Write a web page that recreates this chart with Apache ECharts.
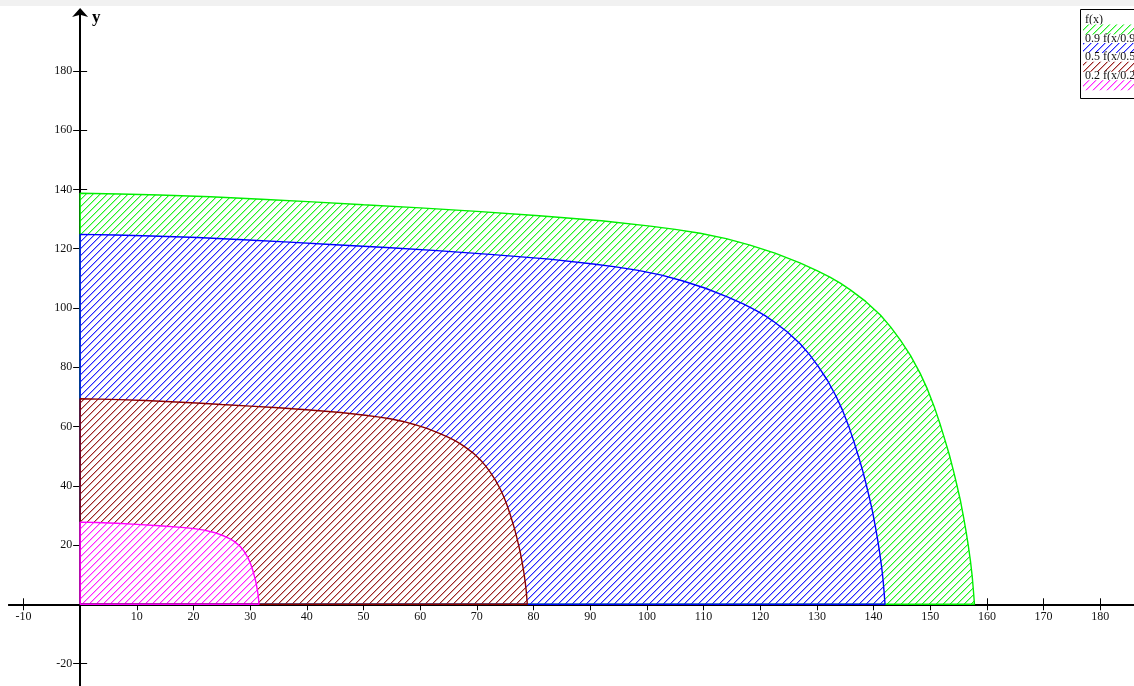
<!DOCTYPE html>
<html>
<head>
<meta charset="utf-8">
<script src="https://cdn.jsdelivr.net/npm/echarts@6/dist/echarts.min.js"></script>
<style>
  html, body { margin: 0; padding: 0; background: #fff; }
  #chart { width: 1134px; height: 686px; }
</style>
</head>
<body>
<div id="chart"></div>
<script>
// Series names shown in the legend box
const seriesNames = ['f(x)', '0.9 f(x/0.9)', '0.5 f(x/0.5)', '0.2 f(x/0.2)'];

// f(x): [x, y] points along the outer curve
const curveF = [
  [0, 138.7], [7, 138.45], [14, 138.1], [23, 137.5], [32, 136.7], [41, 135.8],
  [50, 134.8], [60, 133.75], [70, 132.6], [81, 131.1], [92, 129.4], [100.6, 127.6],
  [105, 126.5], [109.4, 125.2], [114, 123.4], [118.2, 121.2], [122.6, 118.5],
  [127, 115.2], [130, 112.6], [132.3, 110.4], [134.2, 108.3], [135.9, 106.1],
  [138.6, 102.2], [141.2, 97.6], [143, 93.6], [144.7, 89.2], [146.5, 84.0],
  [148.2, 78.0], [149.5, 72.6], [150.7, 66.7], [151.7, 61.0], [152.6, 55.4],
  [153.4, 50.2], [154.1, 45.0], [154.8, 39.4], [155.3, 35.2], [155.9, 29.2],
  [156.3, 24.8], [156.7, 20.0], [157.1, 14.5], [157.4, 9.5], [157.6, 5.0], [157.8, 0]
];

// 0.9 f(x/0.9)
const curve09 = [
  [0, 124.83], [6.3, 124.61], [12.6, 124.29], [20.7, 123.75], [28.8, 123.03], [36.9, 122.22],
  [45, 121.32], [54, 120.38], [63, 119.34], [72.9, 117.99], [82.8, 116.46], [90.54, 114.84],
  [94.5, 113.85], [98.46, 112.68], [102.6, 111.06], [106.38, 109.08], [110.34, 106.65],
  [114.3, 103.68], [117, 101.34], [119.07, 99.36], [120.78, 97.47], [122.31, 95.49],
  [124.74, 91.98], [127.08, 87.84], [128.7, 84.24], [130.23, 80.28], [131.85, 75.6],
  [133.38, 70.2], [134.55, 65.34], [135.63, 60.03], [136.53, 54.9], [137.34, 49.86],
  [138.06, 45.18], [138.69, 40.5], [139.32, 35.46], [139.77, 31.68], [140.31, 26.28],
  [140.67, 22.32], [141.03, 18.0], [141.39, 13.05], [141.66, 8.55], [141.84, 4.5], [142.02, 0]
];

// 0.5 f(x/0.5)
const curve05 = [
  [0, 69.35], [3.5, 69.23], [7, 69.05], [11.5, 68.75], [16, 68.35], [20.5, 67.9],
  [25, 67.4], [30, 66.88], [35, 66.3], [40.5, 65.55], [46, 64.7], [50.3, 63.8],
  [52.5, 63.25], [54.7, 62.6], [57, 61.7], [59.1, 60.6], [61.3, 59.25],
  [63.5, 57.6], [65, 56.3], [66.15, 55.2], [67.1, 54.15], [67.95, 53.05],
  [69.3, 51.1], [70.6, 48.8], [71.5, 46.8], [72.35, 44.6], [73.25, 42.0],
  [74.1, 39.0], [74.75, 36.3], [75.35, 33.35], [75.85, 30.5], [76.3, 27.7],
  [76.7, 25.1], [77.05, 22.5], [77.4, 19.7], [77.65, 17.6], [77.95, 14.6],
  [78.15, 12.4], [78.35, 10.0], [78.55, 7.25], [78.7, 4.75], [78.8, 2.5], [78.9, 0]
];

// 0.2 f(x/0.2)
const curve02 = [
  [0, 27.74], [2.8, 27.62], [6.4, 27.34], [10, 26.96], [14, 26.52], [18.4, 25.88],
  [20.12, 25.52], [21.88, 25.04], [23.64, 24.24], [25.4, 23.04], [26.46, 22.08],
  [27.18, 21.22], [28.24, 19.52], [28.94, 17.84], [29.64, 15.6], [30.14, 13.34],
  [30.52, 11.08], [30.82, 9.0], [31.06, 7.04], [31.34, 4.0], [31.48, 1.9], [31.56, 0]
];

// Tick positions with labels (the origin is left unlabelled)
const xTickValues = [-10, 10, 20, 30, 40, 50, 60, 70, 80, 90, 100, 110, 120, 130, 140, 150, 160, 170, 180];
const yTickValues = [-20, 20, 40, 60, 80, 100, 120, 140, 160, 180];

const seriesCurves = [curveF, curve09, curve05, curve02];
const lineColors = ['#00ee00', '#0000ff', '#8b0000', '#ff00ff'];

// Diagonal hatch tile ("/" lines) on an opaque white ground
function hatchTile(color) {
  const s = 7;
  const c = document.createElement('canvas');
  c.width = s; c.height = s;
  const ctx = c.getContext('2d');
  ctx.fillStyle = '#ffffff';
  ctx.fillRect(0, 0, s, s);
  ctx.fillStyle = color;
  for (let i = 0; i < s; i++) {
    ctx.globalAlpha = 0.85;
    ctx.fillRect(i, s - 1 - i, 1, 1);
    ctx.globalAlpha = 0.35;
    ctx.fillRect((i + 1) % s, s - 1 - i, 1, 1);
  }
  return c;
}
const hatchPatterns = lineColors.map(c => ({ image: hatchTile(c), repeat: 'repeat' }));

// Closed outline: up the y-axis, along the curve, back along the x-axis
function closedOutline(pts) {
  return [[0, 0]].concat(pts, [[0, 0]]);
}

const serifFont = '"Liberation Serif", "Times New Roman", serif';
const xMin = -12.55, xMax = 185.95;
const yMin = -27.57, yMax = 200.2;

// Plot rectangle and where the origin falls inside it; the axes are
// shifted from the rectangle edges onto the origin with `offset`.
const W = 1134, H = 686;
const gridBox = { left: 9, right: 0, top: 11, bottom: 0 };
const plotW = W - gridBox.left - gridBox.right;
const plotH = H - gridBox.top - gridBox.bottom;
const originX = gridBox.left + plotW * (0 - xMin) / (xMax - xMin);
const originY = gridBox.top + plotH * (yMax - 0) / (yMax - yMin);

function xAxisDef(position, withLabels) {
  const offset = position === 'bottom' ? -(H - gridBox.bottom - originY) : -(originY - gridBox.top);
  return {
    type: 'value', min: xMin, max: xMax, position: position, offset: offset,
    axisLine: { show: true, onZero: false, lineStyle: { color: '#000', width: 2 } },
    axisTick: { show: true, customValues: xTickValues, length: 6, lineStyle: { color: '#000', width: 1 } },
    axisLabel: { show: withLabels, customValues: xTickValues, margin: 7, color: '#111', fontFamily: serifFont, fontSize: 12 },
    splitLine: { show: false }
  };
}
function yAxisDef(position, withLabels, arrow) {
  const offset = position === 'left' ? -(originX - gridBox.left) : -(W - gridBox.right - originX);
  return {
    type: 'value', min: yMin, max: yMax, position: position, offset: offset,
    axisLine: {
      show: true, onZero: false,
      symbol: arrow ? ['none', 'arrow'] : ['none', 'none'], symbolSize: [12, 9], symbolOffset: [0, 3],
      lineStyle: { color: '#000', width: 2 }
    },
    axisTick: { show: true, customValues: yTickValues, length: 7, lineStyle: { color: '#000', width: 1 } },
    axisLabel: { show: withLabels, customValues: yTickValues, margin: 8, color: '#111', fontFamily: serifFont, fontSize: 12 },
    splitLine: { show: false }
  };
}

const legendGraphics = [
  { type: 'rect', silent: true, shape: { x: 1080.5, y: 9.5, width: 80, height: 89 },
    style: { fill: '#fff', stroke: '#000', lineWidth: 1 } }
];
seriesNames.forEach((name, i) => {
  legendGraphics.push({
    type: 'text', silent: true, x: 1085, y: 20 + i * 18.6,
    style: { text: name, font: '12px ' + serifFont, fill: '#111', verticalAlign: 'middle', align: 'left' }
  });
  legendGraphics.push({
    type: 'rect', silent: true, shape: { x: 1083, y: 24.5 + i * 18.6, width: 60, height: 10 },
    style: { fill: hatchPatterns[i] }
  });
});

const chart = echarts.init(document.getElementById('chart'), null, { renderer: 'canvas' });
chart.setOption({
  animation: false,
  backgroundColor: '#fff',
  grid: { left: gridBox.left, right: gridBox.right, top: gridBox.top, bottom: gridBox.bottom, containLabel: false, outerBoundsMode: 'none' },
  xAxis: [xAxisDef('bottom', true), xAxisDef('top', false)],
  yAxis: [yAxisDef('left', true, true), yAxisDef('right', false, false)],
  series: seriesCurves.map((pts, i) => ({
    type: 'line',
    name: seriesNames[i],
    data: closedOutline(pts),
    xAxisIndex: 0, yAxisIndex: 0,
    showSymbol: false, symbol: 'none', silent: true,
    lineStyle: { color: lineColors[i], width: 1.4 },
    itemStyle: { color: lineColors[i] },
    areaStyle: { color: hatchPatterns[i], opacity: 1, origin: 0 }
  })),
  graphic: [
    { type: 'rect', silent: true, shape: { x: 0, y: 0, width: 1134, height: 6 }, style: { fill: '#f1f1f1' } },
    { type: 'text', silent: true, x: 92, y: 18,
      style: { text: 'y', font: 'bold 17px ' + serifFont, fill: '#000', verticalAlign: 'middle' } }
  ].concat(legendGraphics)
});
</script>
</body>
</html>
